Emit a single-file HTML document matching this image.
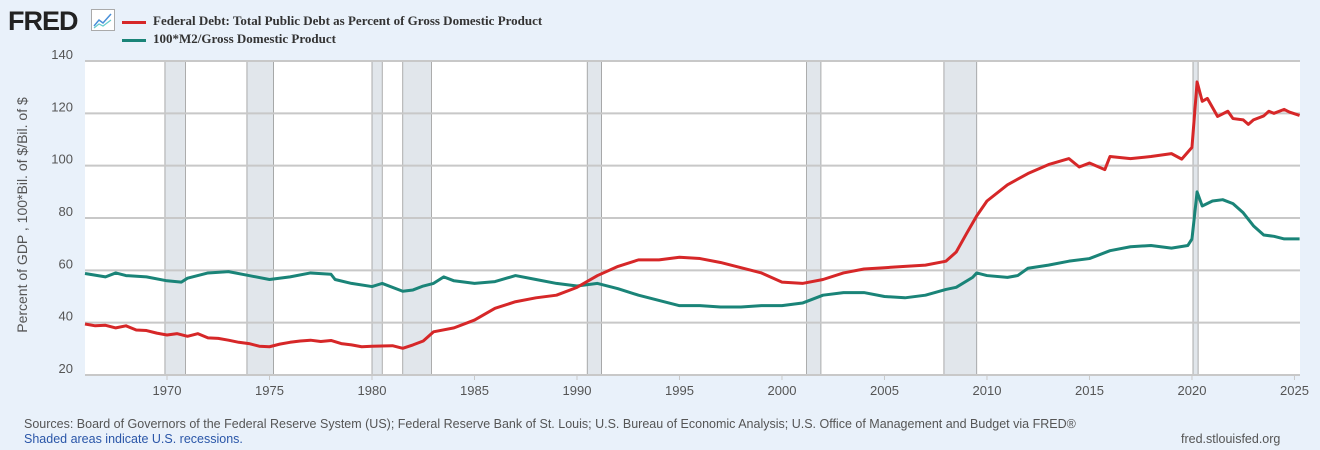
<!DOCTYPE html>
<html><head><meta charset="utf-8"><style>
body{margin:0;width:1320px;height:450px;background:#e9f1fa;font-family:"Liberation Sans",sans-serif;overflow:hidden;position:relative}
.t{position:absolute;white-space:nowrap}
</style></head><body>
<div class="t" style="left:8px;top:6px;font:bold 27px 'Liberation Sans',sans-serif;letter-spacing:-1px;color:#222">FRED</div>
<svg class="t" style="left:91px;top:9px" width="24" height="22"><rect x="0.5" y="0.5" width="23" height="21" fill="#fff" stroke="#aaa"/><polyline points="3,17 8,11 12,14 20,5" fill="none" stroke="#4a90d9" stroke-width="1.5"/><polyline points="3,19 8,15 12,17 20,11" fill="none" stroke="#6cc" stroke-width="1.2"/></svg>
<div class="t" style="left:122px;top:13px;font:bold 13px 'Liberation Serif',serif;color:#333"><span style="display:inline-block;width:24px;height:3px;background:#d62728;vertical-align:middle;margin-right:7px"></span>Federal Debt: Total Public Debt as Percent of Gross Domestic Product</div>
<div class="t" style="left:122px;top:31px;font:bold 13px 'Liberation Serif',serif;color:#333"><span style="display:inline-block;width:24px;height:3px;background:#1a8478;vertical-align:middle;margin-right:7px"></span>100*M2/Gross Domestic Product</div>
<svg id="chart" class="t" style="left:0;top:0" width="1320" height="450"></svg>
<div class="t" style="left:22px;top:215px;font-size:14px;color:#555;transform:translate(-50%,-50%) rotate(-90deg)">Percent of GDP , 100*Bil. of $/Bil. of $</div>
<div class="t" style="left:24px;top:417px;font-size:12.5px;color:#555">Sources: Board of Governors of the Federal Reserve System (US); Federal Reserve Bank of St. Louis; U.S. Bureau of Economic Analysis; U.S. Office of Management and Budget via FRED®</div>
<div class="t" style="left:24px;top:432px;font-size:12.5px;color:#2a56a8">Shaded areas indicate U.S. recessions.</div>
<div class="t" style="left:1181px;top:432px;font-size:12.5px;color:#555">fred.stlouisfed.org</div>
<script>
const yTicks=[20,40,60,80,100,120,140];
const xTicks=[1970,1975,1980,1985,1990,1995,2000,2005,2010,2015,2020,2025];
const recessions=[[1969.9,1970.9],[1973.9,1975.2],[1980.0,1980.5],[1981.5,1982.9],[1990.5,1991.2],[2001.2,2001.9],[2007.9,2009.5],[2020.05,2020.3]];
const debtYears=[1966,1966.5,1967,1967.5,1968,1968.5,1969,1969.5,1970,1970.5,1971,1971.5,1972,1972.5,1973,1973.5,1974,1974.5,1975,1975.5,1976,1976.5,1977,1977.5,1978,1978.5,1979,1979.5,1980,1981,1981.5,1982,1982.5,1983,1984,1985,1986,1987,1988,1989,1990,1991,1992,1993,1994,1995,1996,1997,1998,1999,2000,2001,2002,2003,2004,2005,2006,2007,2008,2008.5,2009,2009.5,2010,2011,2012,2013,2014,2014.5,2015,2015.75,2016,2017,2018,2019,2019.5,2020,2020.25,2020.5,2020.75,2021.25,2021.75,2022,2022.5,2022.75,2023,2023.5,2023.75,2024,2024.5,2024.75,2025.25];
const debtValues=[39.5,38.8,39,38,38.8,37.2,37,36,35.3,35.8,34.8,35.8,34.2,34,33.3,32.5,32,31,30.8,31.8,32.5,33,33.3,32.8,33.2,32,31.5,30.8,31,31.2,30.2,31.5,33,36.5,38,41,45.5,48,49.5,50.5,53.5,58,61.5,64,64,65,64.5,63,61,59,55.5,55,56.5,59,60.5,61,61.5,62,63.5,67,74,80.8,86.5,92.7,97,100.4,102.7,99.5,101,98.5,103.5,102.7,103.5,104.6,102.5,107,132,124.6,125.7,118.8,120.8,118,117.5,115.8,117.5,119,120.8,120,121.5,120.5,119.2];
const m2Years=[1966,1967,1967.5,1968,1969,1970,1970.7,1971,1972,1973,1974,1975,1976,1977,1978,1978.2,1979,1980,1980.5,1981.5,1982,1982.5,1983,1983.5,1984,1985,1986,1987,1988,1989,1990,1991,1992,1993,1994,1995,1996,1997,1998,1999,2000,2001,2002,2003,2004,2005,2006,2007,2008,2008.5,2009.3,2009.5,2010,2011,2011.5,2012,2013,2014,2015,2016,2017,2018,2019,2019.8,2020,2020.25,2020.5,2021,2021.5,2022,2022.5,2023,2023.5,2024,2024.5,2025.25];
const m2Values=[58.8,57.5,59,58,57.5,56,55.5,57,59,59.5,58,56.5,57.5,59,58.5,56.5,55,53.8,55,52,52.5,54,55,57.5,56,55,55.7,58,56.5,55,54,55,53,50.5,48.5,46.5,46.5,46,46,46.5,46.5,47.5,50.5,51.5,51.5,50,49.5,50.5,52.7,53.5,57.3,59,58,57.3,58,60.8,62,63.5,64.5,67.5,69,69.5,68.5,69.5,72,90,84.6,86.5,87,85.5,82,77,73.5,73,72,72];
const L=85,R=1300,T=61,B=375,X0=1966,X1=2025.27;
const xs=v=>L+(v-X0)/(X1-X0)*(R-L);
const ys=v=>B-(v-20)/120*(B-T);
const svg=document.getElementById('chart');const NS='http://www.w3.org/2000/svg';
function mk(tag,attrs){const e=document.createElementNS(NS,tag);for(const k in attrs)e.setAttribute(k,attrs[k]);svg.appendChild(e);return e;}
let bg=mk('rect',{x:L,y:T,width:R-L,height:B-T,fill:'#fff'});


recessions.forEach(r=>{const e=mk('rect',{x:xs(r[0]),y:T,width:xs(r[1])-xs(r[0]),height:B-T,fill:'#e1e6eb',stroke:'#999','stroke-width':0.8});

});
yTicks.forEach(v=>{const g=mk('line',{x1:L,x2:R,y1:ys(v),y2:ys(v),stroke:'#c8c8c8','stroke-width':2});


const t=mk('text',{x:L-12,y:ys(v)-2,'text-anchor':'end','font-size':13,fill:'#555','font-family':'Liberation Sans, sans-serif'});t.textContent=v;

});
xTicks.forEach(v=>{const k=mk('line',{x1:xs(v),x2:xs(v),y1:B,y2:B+5,stroke:'#c8c8c8','stroke-width':1});


const t=mk('text',{x:xs(v),y:395,'text-anchor':'middle','font-size':13,fill:'#555','font-family':'Liberation Sans, sans-serif'});t.textContent=v;

});
function line(xa,va,c,n){const p=mk('polyline',{points:xa.map((x,i)=>xs(x)+','+ys(va[i])).join(' '),fill:'none',stroke:c,'stroke-width':3,'stroke-linejoin':'round'});

}
line(m2Years,m2Values,'#1a8478','m2-gdp-line');
line(debtYears,debtValues,'#d62728','debt-gdp-line');
</script>
</body></html>
